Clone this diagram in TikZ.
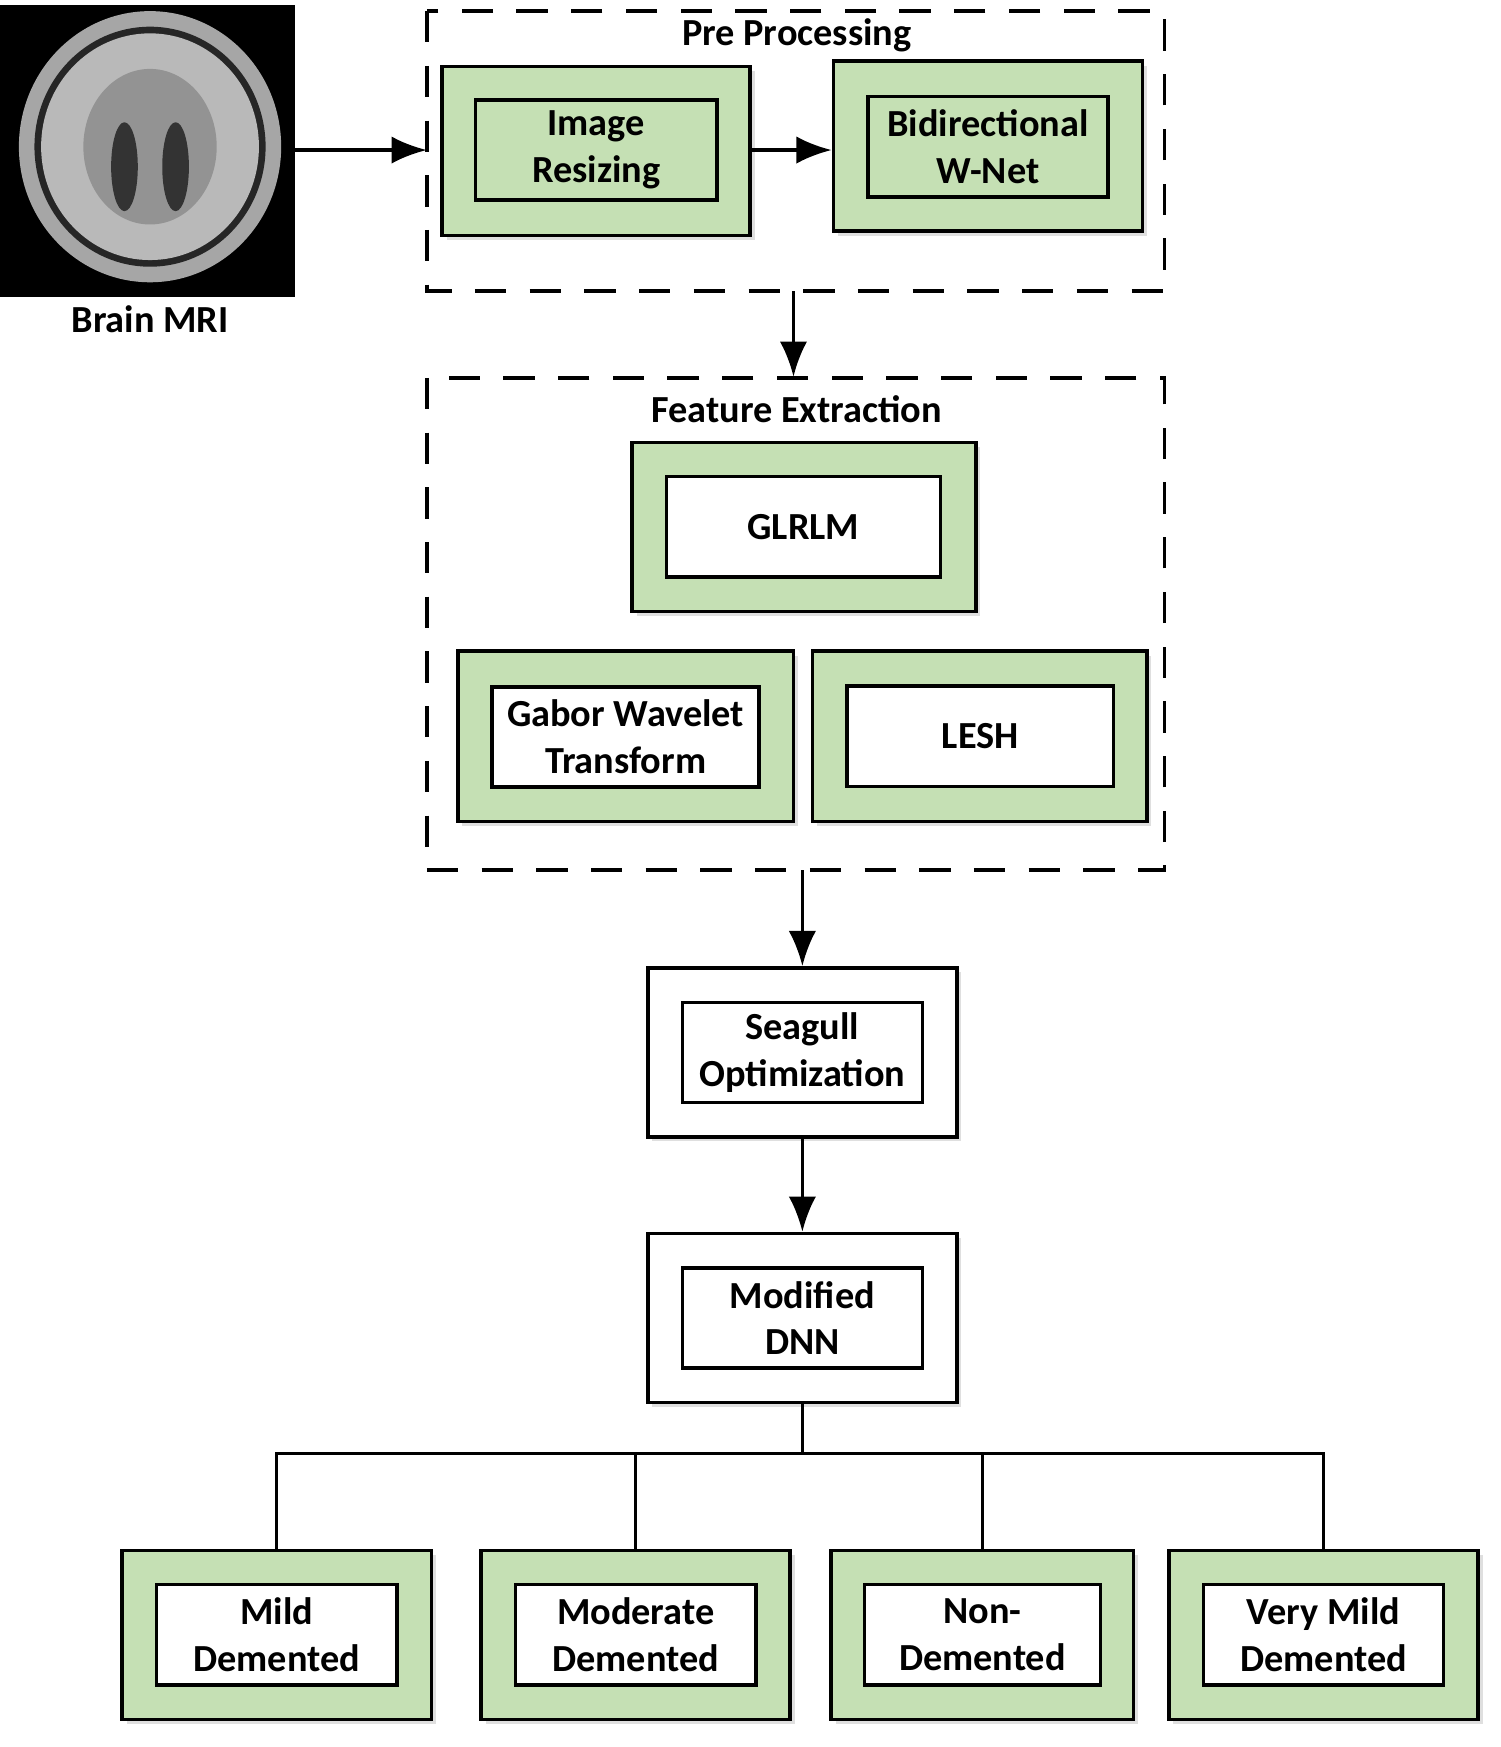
\documentclass[tikz,border=0pt]{standalone}
\usepackage{fontspec}
\setmainfont{Carlito}
\usetikzlibrary{arrows.meta,shadows}
\definecolor{bgreen}{HTML}{C5E0B4}
\begin{document}
\begin{tikzpicture}[x=0.01cm,y=-0.01cm,
  font=\fontsize{9.8}{12}\selectfont\bfseries,
  outer/.style={draw,line width=0.9pt,fill=bgreen,drop shadow={shadow xshift=0.4mm,shadow yshift=-0.4mm,opacity=0.25}},
  outerw/.style={outer,fill=white},
  inner/.style={draw,line width=0.9pt,fill=white,align=center,minimum width=2.16cm,minimum height=0.9cm,inner sep=1pt},
  innerg/.style={inner,fill=bgreen},
  dbox/.style={draw,line width=0.9pt,dash pattern=on 8pt off 6pt},
  arr/.style={-{Latex[length=9pt,width=7pt]},line width=0.9pt},
  ln/.style={line width=0.9pt}]
\useasboundingbox (0,0) rectangle (1350,1572);
% MRI
\node[fill=black,minimum width=2.65cm,minimum height=2.62cm,inner sep=0] (mri) at (132.5,136) {};
\fill[gray!70] (135,132) ellipse (118 and 122);
\fill[black!85] (135,132) ellipse (104 and 108);
\fill[gray!55] (135,132) ellipse (98 and 102);
\fill[gray!85] (135,132) ellipse (60 and 70);
\fill[black!80] (112,150) ellipse (12 and 40);
\fill[black!80] (158,150) ellipse (12 and 40);
\node (mrilbl) at (135,287) {Brain MRI};
% Pre processing
\draw[dbox] (384,10) rectangle (1048,262);
\node (pptitle) at (717,32) {Pre Processing};
\node[outer,minimum width=2.77cm,minimum height=1.52cm] (ir) at (536.5,136) {};
\node[innerg,minimum width=2.17cm] (iri) at (536.5,135) {Image\\Resizing};
\node[outer,minimum width=2.78cm,minimum height=1.53cm] (bw) at (889,131.5) {};
\node[innerg] (bwi) at (889,132) {Bidirectional\\W-Net};
\coordinate (ppl) at (384,135);
\coordinate (ppb) at (714,262);
\coordinate (fet) at (714,339);
\draw[arr] (mri.east |- ppl) -- (ppl);
\draw[arr] (ir.east |- 0,135) -- (bw.west |- 0,135);
\draw[arr] (ppb) -- (fet);
% Feature extraction
\draw[dbox] (384,340) rectangle (1048,783);
\node (fetitle) at (717,368) {Feature Extraction};
\node[outer,minimum width=3.09cm,minimum height=1.52cm] (gl) at (723.5,474) {};
\node[inner,minimum width=2.46cm] (gli) at (723,474) {GLRLM};
\node[outer,minimum width=3.02cm,minimum height=1.53cm] (ga) at (563,662.5) {};
\node[inner,minimum width=2.40cm] (gai) at (563,663) {Gabor Wavelet\\Transform};
\node[outer,minimum width=3.01cm,minimum height=1.53cm] (le) at (881.5,662.5) {};
\node[inner,minimum width=2.40cm] (lei) at (882,662.5) {LESH};
\coordinate (feb) at (722,783);
% Seagull
\node[outerw,minimum width=2.78cm,minimum height=1.52cm] (sg) at (722,947) {};
\node[inner] (sgi) at (722,947) {Seagull\\Optimization};
\draw[arr] (feb) -- (sg.north);
\node[outerw,minimum width=2.78cm,minimum height=1.52cm] (dn) at (722,1186) {};
\node[inner] (dni) at (722,1186) {Modified\\DNN};
\draw[arr] (sg.south) -- (dn.north);
% classes
\node[outer,minimum width=2.78cm,minimum height=1.52cm] (c1) at (249,1471) {};
\node[inner] (c1i) at (249,1471) {Mild\\Demented};
\node[outer,minimum width=2.78cm,minimum height=1.52cm] (c2) at (572,1471) {};
\node[inner] (c2i) at (572,1471) {Moderate\\Demented};
\node[outer,minimum width=2.72cm,minimum height=1.52cm] (c3) at (884,1471) {};
\node[inner,minimum width=2.12cm] (c3i) at (884,1471) {Non-\\Demented};
\node[outer,minimum width=2.78cm,minimum height=1.52cm] (c4) at (1191,1471) {};
\node[inner] (c4i) at (1191,1471) {Very Mild\\Demented};
\coordinate (j) at (722,1308);
\draw[ln] (dn.south) -- (j);
\draw[ln] (c1.north) |- (j) -| (c4.north);
\draw[ln] (c2.north) -- (c2.north |- j);
\draw[ln] (c3.north) -- (c3.north |- j);
\end{tikzpicture}
\end{document}
